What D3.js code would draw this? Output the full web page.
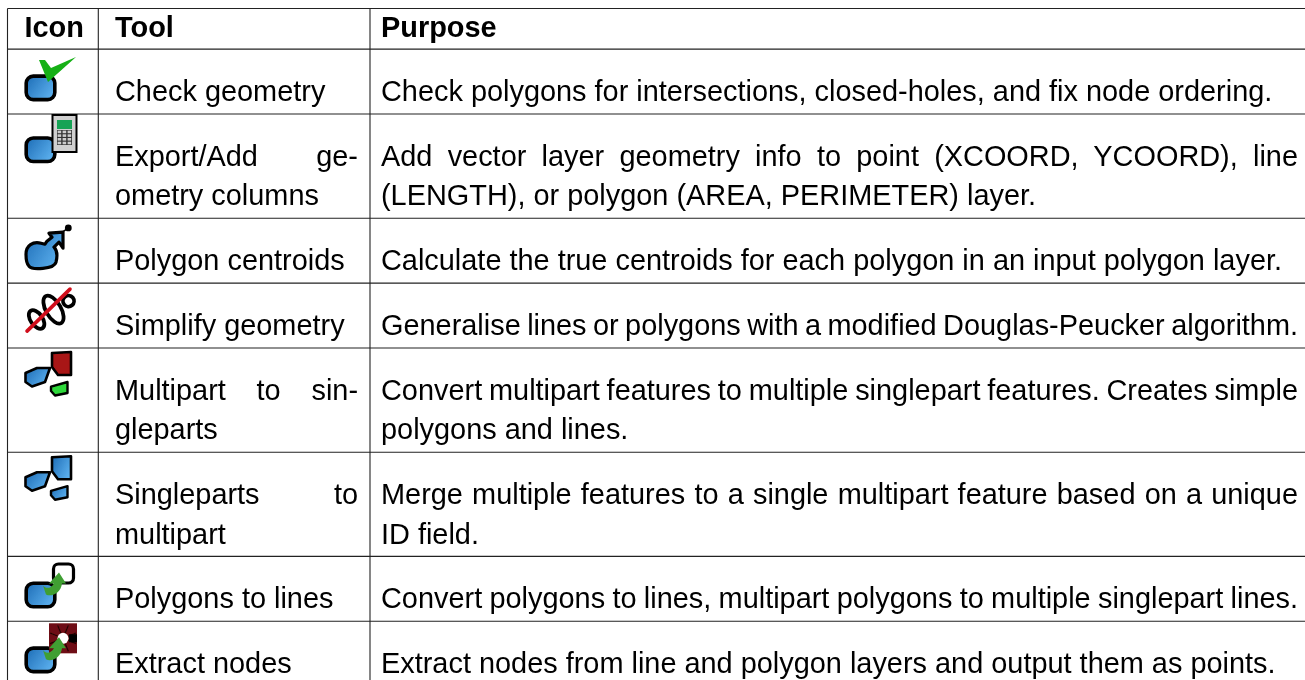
<!DOCTYPE html>
<html>
<head>
<meta charset="utf-8">
<script src="https://d3js.org/d3.v7.min.js"></script>
<style>
  html, body { margin: 0; padding: 0; background: #fff; overflow: hidden; }
  text { font-family: "Liberation Sans", Arial, sans-serif; fill: #000; }
</style>
</head>
<body>
<div id="table"></div>
<script>
var headers = ["Icon", "Tool", "Purpose"];
var iconNames = ["check", "export", "centroid", "simplify", "multi", "single", "tolines", "nodes"];
// each row: lines of text, the "|" suffix marks a justified line
var toolLines = [
  ["Check geometry"],
  ["Export/Add ge-|", "ometry columns"],
  ["Polygon centroids"],
  ["Simplify geometry"],
  ["Multipart to sin-|", "gleparts"],
  ["Singleparts to|", "multipart"],
  ["Polygons to lines"],
  ["Extract nodes"]
];
var purposeLines = [
  ["Check polygons for intersections, closed-holes, and fix node ordering."],
  ["Add vector layer geometry info to point (XCOORD, YCOORD), line|", "(LENGTH), or polygon (AREA, PERIMETER) layer."],
  ["Calculate the true centroids for each polygon in an input polygon layer."],
  ["Generalise lines or polygons with a modified Douglas-Peucker algorithm.|"],
  ["Convert multipart features to multiple singlepart features. Creates simple|", "polygons and lines."],
  ["Merge multiple features to a single multipart feature based on a unique|", "ID field."],
  ["Convert polygons to lines, multipart polygons to multiple singlepart lines.|"],
  ["Extract nodes from line and polygon layers and output them as points."]
];

var width = 1305, height = 680;
var left = 7.5, colTool = 98.3, colPurpose = 370;
var top0 = 8.5, headH = 40.6, rowH = 64.9, lineH = 39.3;
var fontSize = 28.9;

var svg = d3.select("#table").append("svg")
  .attr("width", width).attr("height", height)
  .style("display", "block");

var defs = svg.append("defs");
var blue = defs.append("linearGradient").attr("id", "blue")
  .attr("x1", 0).attr("y1", 0.1).attr("x2", 1).attr("y2", 0.7);
blue.append("stop").attr("offset", 0).attr("stop-color", "#1f6fb8");
blue.append("stop").attr("offset", 1).attr("stop-color", "#5cb0ee");
defs.append("filter").attr("id", "soft")
  .append("feGaussianBlur").attr("stdDeviation", 0.5);
defs.append("filter").attr("id", "softText")
  .attr("filterUnits", "userSpaceOnUse").attr("x", 0).attr("y", 0).attr("width", width).attr("height", height)
  .append("feGaussianBlur").attr("stdDeviation", 0.4);

// row edges from the number of text lines in each row
var edges = [top0, top0 + headH];
toolLines.forEach(function(lines) {
  edges.push(edges[edges.length - 1] + rowH + (lines.length - 1) * lineH);
});

var grid = svg.append("g").attr("stroke", "#222").attr("stroke-width", 1.1);
grid.selectAll("line.h").data(edges).join("line").attr("class", "h")
  .attr("x1", left).attr("x2", width).attr("y1", function(d) { return d; }).attr("y2", function(d) { return d; });
grid.selectAll("line.v").data([left, colTool, colPurpose]).join("line").attr("class", "v")
  .attr("x1", function(d) { return d; }).attr("x2", function(d) { return d; })
  .attr("y1", top0).attr("y2", height);

// header
svg.append("g").attr("filter", "url(#softText)").selectAll("text")
  .data([[24.5, headers[0]], [115, headers[1]], [381, headers[2]]])
  .join("text")
  .attr("x", function(d) { return d[0]; })
  .attr("y", top0 + 28)
  .attr("font-size", fontSize)
  .attr("font-weight", "bold")
  .text(function(d) { return d[1]; });

// a column of text, justified lines get word spacing to reach the right edge
function column(rows, x, xEnd) {
  var g = svg.append("g").attr("filter", "url(#softText)");
  rows.forEach(function(lines, r) {
    lines.forEach(function(line, i) {
      var justify = line.slice(-1) == "|";
      var str = justify ? line.slice(0, -1) : line;
      var t = g.append("text")
        .attr("x", x)
        .attr("y", edges[r + 1] + 52 + i * lineH)
        .attr("font-size", fontSize)
        .text(str);
      if (justify) {
        var gaps = str.split(" ").length - 1;
        var extra = (xEnd - x - t.node().getComputedTextLength()) / gaps;
        t.style("word-spacing", extra + "px");
      }
    });
  });
}
column(toolLines, 115, 358);
column(purposeLines, 381, 1298);

// icon pieces, in icon local pixels
function blob(g, x, y, w, h, fill) {
  g.append("rect").attr("x", x).attr("y", y).attr("width", w).attr("height", h)
    .attr("rx", 7).attr("fill", fill || "url(#blue)")
    .attr("stroke", "#000").attr("stroke-width", 3.6);
}
function shape(g, d, fill, stroke, sw) {
  return g.append("path").attr("d", d).attr("fill", fill)
    .attr("stroke", stroke || "none").attr("stroke-width", sw || 0)
    .attr("stroke-linejoin", "round").attr("stroke-linecap", "round");
}
function greenArrow(g) {
  shape(g, "M19 29 C22 33 27 32 30 27 L25 27 L35 16 L42 27 L38 27 C37 36 28 41 22 38 Z", "#3f9f33");
}
function loop(g, cx, cy, rx, ry, angle) {
  g.append("ellipse").attr("rx", rx).attr("ry", ry)
    .attr("transform", "translate(" + cx + "," + cy + ") rotate(" + angle + ")")
    .attr("fill", "#fff").attr("stroke", "#000").attr("stroke-width", 3.8);
}
var draw = {
  check: function(g) {
    blob(g, 2.2, 27, 28.6, 23.5);
    shape(g, "M15 11 L24 33 L52 8 L27 19 L21 11 Z", "#14b014");
  },
  export: function(g) {
    blob(g, 2.2, 24, 28.6, 23.5);
    g.append("rect").attr("x", 28.5).attr("y", 1).attr("width", 24).attr("height", 37)
      .attr("fill", "#d0d0d0").attr("stroke", "#000").attr("stroke-width", 2);
    g.append("rect").attr("x", 33).attr("y", 6).attr("width", 15).attr("height", 9).attr("fill", "#17a355");
    g.append("rect").attr("x", 33).attr("y", 16).attr("width", 15).attr("height", 15).attr("fill", "#333");
    d3.range(12).forEach(function(i) {
      g.append("rect").attr("x", 33.6 + (i % 3) * 5).attr("y", 16.6 + Math.floor(i / 3) * 3.7)
        .attr("width", 3.6).attr("height", 2.6).attr("fill", "#ccc");
    });
  },
  centroid: function(g) {
    shape(g, "M2 36 C2 27 9 23 17 25 L21 26 L23 23 L28 19 L25 15 L39 14 L39 30 L35 24 L30 29 C34 33 33 40 32 44 C30 51 8 52 5 48 C2 45 2 40 2 36 Z",
      "url(#blue)", "#000", 3.2);
    shape(g, "M37 15 L44 10", "none", "#000", 1.6);
    g.append("circle").attr("cx", 44.3).attr("cy", 9.7).attr("r", 3.4).attr("fill", "#000");
  },
  simplify: function(g) {
    loop(g, 12.6, 36.4, 10.5, 6, 55);
    loop(g, 29.5, 26.5, 15.5, 7.5, 60);
    loop(g, 44.5, 18, 5.5, 5.5, 50);
    shape(g, "M3 48 L46 6", "none", "#d1101a", 3.6);
  },
  multi: function(g) { parts(g, "#a81414", "#2fd83a", "url(#blue)"); },
  single: function(g) { parts(g, "url(#blue)", "url(#blue)", "url(#blue)"); },
  tolines: function(g) {
    blob(g, 2.2, 26.8, 28.6, 23.5);
    g.append("rect").attr("x", 29.5).attr("y", 7.6).attr("width", 20).attr("height", 19).attr("rx", 5)
      .attr("fill", "#fff").attr("stroke", "#000").attr("stroke-width", 3.2);
    greenArrow(g);
  },
  nodes: function(g) {
    blob(g, 2.2, 26.8, 28.6, 23.5);
    var ring = g.append("g");
    ring.append("rect").attr("x", 25).attr("y", 2).attr("width", 28).attr("height", 30).attr("fill", "#6e0d12");
    d3.range(8).forEach(function(i) {
      var a = i * Math.PI / 4 + Math.PI / 8;
      ring.append("line").attr("x1", 39).attr("y1", 17)
        .attr("x2", 39 + 14 * Math.cos(a)).attr("y2", 17 + 14 * Math.sin(a))
        .attr("stroke", "#240406").attr("stroke-width", 1.2);
    });
    ring.append("rect").attr("x", 45).attr("y", 13).attr("width", 8).attr("height", 8).attr("fill", "#000");
    ring.append("circle").attr("cx", 39).attr("cy", 17).attr("r", 5.5).attr("fill", "#fff");
    greenArrow(g);
  }
};
function parts(g, a, b, c) {
  shape(g, "M28 5 L47 4 L47 27 L34 27 L28 19 Z", a, "#000", 2.6);
  shape(g, "M1.5 25 L13 20 L26 20 L21 34 L8 38.5 L1.5 34 Z", c, "#000", 2.6);
  shape(g, "M27 38.7 L43.5 34 L43.5 45 L31 47.5 L27 43 Z", b, "#000", 2.4);
}

iconNames.forEach(function(name, r) {
  var g = svg.append("g")
    .attr("transform", "translate(24," + edges[r + 1] + ")")
    .attr("filter", "url(#soft)");
  draw[name](g);
});
</script>
</body>
</html>
